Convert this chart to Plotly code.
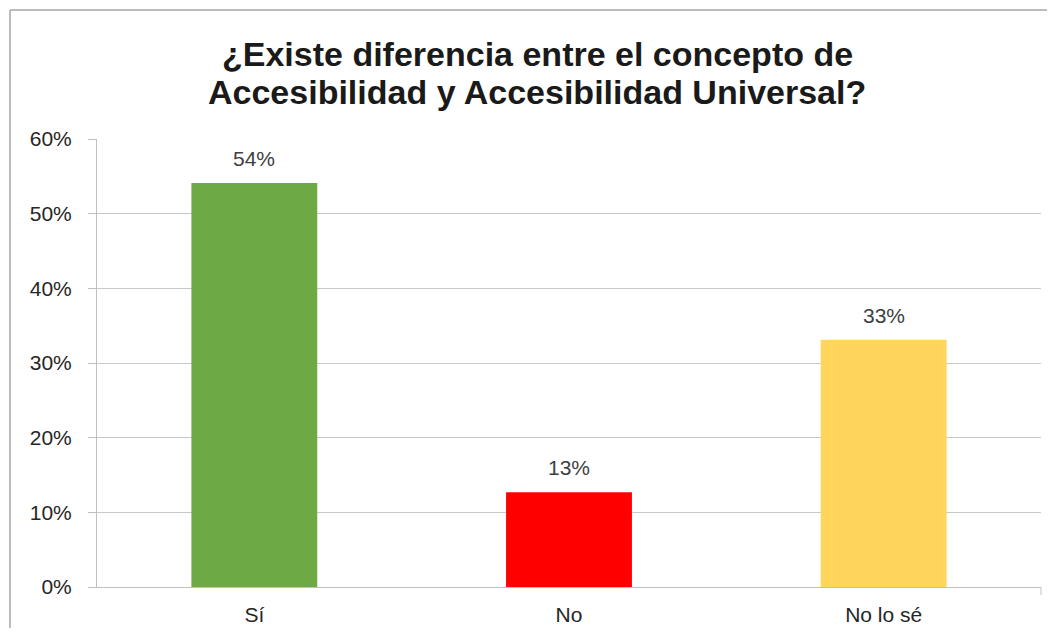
import plotly.graph_objects as go

categories = ["Sí", "No", "No lo sé"]
values = [0.541, 0.127, 0.331]
labels = ["54%", "13%", "33%"]
colors = ["#6DAA45", "#FF0000", "#FFD55C"]
y_ticks = [0, 0.1, 0.2, 0.3, 0.4, 0.5, 0.6]
y_tick_labels = ["0%", "10%", "20%", "30%", "40%", "50%", "60%"]
title_lines = ["¿Existe diferencia entre el concepto de",
               "Accesibilidad y Accesibilidad Universal?"]

# page body has an 8px margin; figure sized to fit inside the viewport
OFF = 8
W, H = 1040, 621
# target plot area in screen pixels
sx0, sx1, sy0, sy1 = 97, 1041, 139, 587
ml, mr = sx0 - OFF, W - (sx1 - OFF)
mt, mb = sy0 - OFF, H - (sy1 - OFF)
pw, ph = W - ml - mr, H - mt - mb

def sx(px):
    return (px - OFF - ml) / pw

def sy(py):
    return (H - mb - (py - OFF)) / ph

FONT = "Liberation Sans, Arial"

fig = go.Figure()
fig.add_trace(go.Bar(
    x=categories, y=values, marker=dict(color=colors, line=dict(width=0)),
    hoverinfo="skip", showlegend=False,
))

for c, v, t in zip(categories, values, labels):
    fig.add_annotation(x=c, y=v, text=t, showarrow=False, yanchor="bottom",
                       yshift=11, font=dict(family=FONT, size=21, color="#404040"))

# title as two lines
for txt, ymid in zip(title_lines, [54, 92]):
    fig.add_annotation(xref="paper", yref="paper", x=sx(537), y=sy(ymid),
                       xanchor="center", yanchor="middle", showarrow=False,
                       text="<b>" + txt + "</b>",
                       font=dict(family=FONT, size=34, color="#1A1A1A"))

# outer chart frame (top and left edges visible)
fig.add_shape(type="line", xref="paper", yref="paper",
              x0=sx(10), x1=sx(1047), y0=sy(10), y1=sy(10),
              line=dict(color="#A6A6A6", width=1.5), layer="below")
fig.add_shape(type="line", xref="paper", yref="paper",
              x0=sx(10), x1=sx(10), y0=sy(10), y1=sy(628),
              line=dict(color="#A6A6A6", width=1.5), layer="below")
# end tick on category axis
fig.add_shape(type="line", xref="paper", yref="paper",
              x0=1, x1=1, y0=0, y1=sy(sy1 + 8),
              line=dict(color="#BFBFBF", width=1))

fig.update_layout(
    width=W, height=H,
    margin=dict(l=ml, r=mr, t=mt, b=mb, autoexpand=False),
    paper_bgcolor="white", plot_bgcolor="white",
    bargap=0.6,
    font=dict(family=FONT, color="#404040"),
    xaxis=dict(showline=True, linecolor="#BFBFBF", linewidth=1, ticks="",
               tickfont=dict(size=21, color="#262626"), showgrid=False, zeroline=False,
               ticklabelstandoff=9, automargin=False, fixedrange=True),
    yaxis=dict(range=[0, 0.6], tickvals=y_ticks, ticktext=y_tick_labels,
               showgrid=True, gridcolor="#C8C8C8", gridwidth=1,
               showline=True, linecolor="#BFBFBF", linewidth=1,
               ticks="outside", ticklen=8, tickcolor="#BFBFBF",
               tickfont=dict(size=21, color="#262626"), ticklabelstandoff=12,
               automargin=False, zeroline=False, fixedrange=True),
)

fig.write_html("out.html")
